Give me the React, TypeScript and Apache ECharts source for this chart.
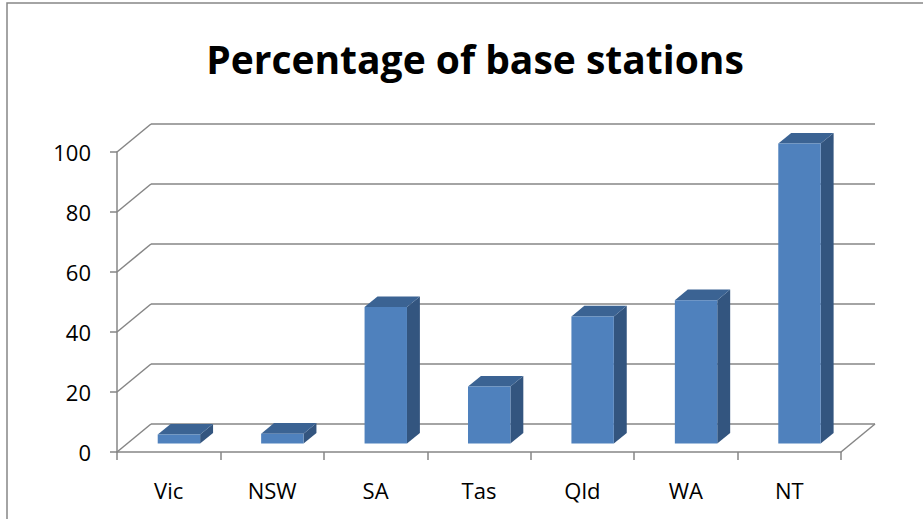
import React, { useEffect, useRef } from "react";
import * as echarts from "echarts";

const categories = ["Vic", "NSW", "SA", "Tas", "Qld", "WA", "NT"];
const values = [3, 3.3, 45.5, 19, 42.4, 47.8, 100];
const yTicks = [0, 20, 40, 60, 80, 100];
const titleText = "Percentage of base stations";

const DX = 34;
const DY = -28;
const GRID_COLOR = "#868686";
const FONT = "'Open Sans', 'Noto Sans', sans-serif";

export default function App() {
  const ref = useRef<HTMLDivElement>(null);
  useEffect(() => {
    if (!ref.current) return;
    const chart = echarts.init(ref.current, undefined, { renderer: "svg" });
    const frameData: number[][] = yTicks.map((v) => [0, v, 0]);
    frameData.push([categories.length - 1, 0, 1]);
    chart.setOption({
      animation: false,
      backgroundColor: "#ffffff",
      grid: [
        { left: 117, top: 152, width: 724, height: 300 },
        { left: 151, top: 124, width: 724, height: 300 },
      ],
      xAxis: [
        {
          type: "category",
          gridIndex: 0,
          data: categories,
          axisLine: { show: true, lineStyle: { color: GRID_COLOR, width: 1.5 } },
          axisTick: { show: true, length: 8, lineStyle: { color: GRID_COLOR, width: 1.5 } },
          axisLabel: { color: "#000", fontFamily: FONT, fontSize: 22, margin: 27 },
          splitLine: { show: false },
        },
        {
          type: "category",
          gridIndex: 1,
          data: categories,
          axisLine: { show: false },
          axisTick: { show: false },
          axisLabel: { show: false },
          splitLine: { show: false },
        },
      ],
      yAxis: [
        {
          type: "value",
          gridIndex: 0,
          min: 0,
          max: 100,
          interval: 20,
          axisLine: { show: true, lineStyle: { color: GRID_COLOR, width: 1.5 } },
          axisTick: { show: true, length: 7, lineStyle: { color: GRID_COLOR, width: 1.5 } },
          axisLabel: { color: "#000", fontFamily: FONT, fontSize: 22, margin: 26 },
          splitLine: { show: false },
        },
        {
          type: "value",
          gridIndex: 1,
          min: 0,
          max: 100,
          interval: 20,
          axisLine: { show: false },
          axisTick: { show: false },
          axisLabel: { show: false },
          splitLine: { show: true, lineStyle: { color: GRID_COLOR, width: 1.5 } },
        },
      ],
      graphic: [
        {
          type: "rect",
          shape: { x: 7, y: 3, width: 940, height: 540 },
          style: { fill: "transparent", stroke: "#868686", lineWidth: 1.5 },
          silent: true,
        },
        {
          type: "text",
          x: 475,
          y: 58,
          style: {
            text: titleText,
            fontFamily: FONT,
            fontWeight: "bold",
            fontSize: 39,
            fill: "#000",
            align: "center",
            verticalAlign: "middle",
          },
        },
      ],
      series: [
        {
          type: "custom",
          xAxisIndex: 0,
          yAxisIndex: 0,
          clip: false,
          silent: true,
          data: frameData,
          renderItem: (params: any, api: any) => {
            const p = api.coord([api.value(0), api.value(1)]);
            const half = api.size([1, 0])[0] / 2;
            const x = api.value(2) === 1 ? p[0] + half : p[0] - half;
            return {
              type: "line",
              shape: { x1: x, y1: p[1], x2: x + DX, y2: p[1] + DY },
              style: { stroke: GRID_COLOR, lineWidth: 1.5 },
            };
          },
        },
        {
          type: "custom",
          xAxisIndex: 0,
          yAxisIndex: 0,
          clip: false,
          data: values.map((v, i) => [i, v]),
          renderItem: (params: any, api: any) => {
            const base = api.coord([api.value(0), 0]);
            const top = api.coord([api.value(0), api.value(1)]);
            const bw = api.size([1, 0])[0];
            const fw = bw * 0.41;
            const ox = DX * 0.3;
            const oy = DY * 0.3;
            const sdx = DX * 0.38;
            const sdy = DY * 0.38;
            const x0 = base[0] - fw / 2 + ox;
            const x1 = x0 + fw;
            const yb = base[1] + oy;
            const yt = top[1] + oy;
            return {
              type: "group",
              children: [
                {
                  type: "polygon",
                  shape: { points: [[x1, yt], [x1 + sdx, yt + sdy], [x1 + sdx, yb + sdy], [x1, yb]] },
                  style: { fill: "#33557f" },
                },
                {
                  type: "polygon",
                  shape: { points: [[x0, yt], [x0 + sdx, yt + sdy], [x1 + sdx, yt + sdy], [x1, yt]] },
                  style: { fill: "#3b6393" },
                },
                {
                  type: "rect",
                  shape: { x: x0, y: yt, width: fw, height: yb - yt },
                  style: { fill: "#4f81bd" },
                },
              ],
            };
          },
        },
      ],
    });
    return () => chart.dispose();
  }, []);
  return (
    <div
      ref={ref}
      style={{ position: "fixed", left: 0, top: 0, width: 923, height: 519 }}
    />
  );
}
